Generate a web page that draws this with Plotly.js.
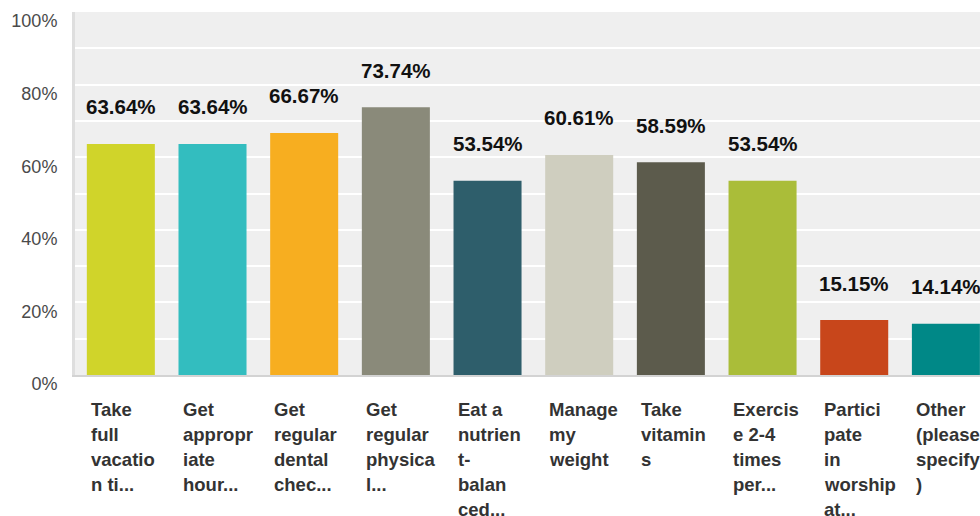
<!DOCTYPE html>
<html>
<head>
<meta charset="utf-8">
<script src="https://cdn.plot.ly/plotly-3.0.1.min.js"></script>
<style>html,body{margin:0;padding:0;background:#fff;overflow:hidden}#chart{width:980px;height:516px}</style>
</head>
<body>
<div id="chart"></div>
<script>
var categories = [
  "Take<br>full<br>vacatio<br>n ti...",
  "Get<br>appropr<br>iate<br>hour...",
  "Get<br>regular<br>dental<br>chec...",
  "Get<br>regular<br>physica<br>l...",
  "Eat a<br>nutrien<br>t-<br>balan<br>ced...",
  "Manage<br>my<br>weight",
  "Take<br>vitamin<br>s",
  "Exercis<br>e 2-4<br>times<br>per...",
  "Partici<br>pate<br>in<br>worship<br>at...",
  "Other<br>(please<br>specify<br>)"
];
var values = [63.64, 63.64, 66.67, 73.74, 53.54, 60.61, 58.59, 53.54, 15.15, 14.14];
var colors = ["#d0d42a", "#33bdbf", "#f7ae20", "#8a8a7a", "#2e5e6b", "#cfcebf", "#5c5b4c", "#aabd39", "#c8461b", "#008887"];
var yTicks = [0, 20, 40, 60, 80, 100];

var idx = values.map(function(v, i){ return i; });

var trace = {
  type: 'bar',
  x: idx,
  y: values,
  marker: {color: colors, line: {width: 0}},
  hoverinfo: 'skip'
};

var annotations = [];
values.forEach(function(v, i){
  annotations.push({
    x: i, y: v, xref: 'x', yref: 'y',
    text: v.toFixed(2) + '%',
    showarrow: false, xanchor: 'center', yanchor: 'middle', yshift: 37,
    font: {family: '"Liberation Sans", Arial, sans-serif', size: 20.5, color: '#111', weight: 'bold'}
  });
});
categories.forEach(function(c, i){
  c.split('<br>').forEach(function(line, k){
    annotations.push({
      x: i, y: 0, xref: 'x', yref: 'y',
      text: '<b>' + line + '</b>',
      showarrow: false, xanchor: 'left', yanchor: 'middle',
      xshift: -32, yshift: -34 - 25 * k,
      font: {family: '"Liberation Sans", Arial, sans-serif', size: 18.5, color: '#333'}
    });
  });
});

var layout = {
  width: 980, height: 516,
  margin: {l: 75, r: 0, t: 12, b: 141, pad: 0},
  paper_bgcolor: '#ffffff',
  plot_bgcolor: '#efefef',
  bargap: 0.258,
  showlegend: false,
  xaxis: {
    range: [-0.5, 9.372], showticklabels: false, showgrid: false, zeroline: false,
    ticks: '', showline: true, linecolor: '#d3d3d3', linewidth: 2, fixedrange: true
  },
  yaxis: {
    range: [0, 100], tickvals: yTicks, ticktext: yTicks.map(function(t){ return t + '%'; }),
    showgrid: true, gridcolor: '#ffffff', gridwidth: 2,
    minor: {dtick: 10, showgrid: true, gridcolor: '#ffffff', gridwidth: 2},
    zeroline: false, ticks: '', showline: true, linecolor: '#dedede', linewidth: 3,
    ticklabelshift: 9, ticklabelstandoff: 11,
    tickfont: {family: '"Liberation Sans", Arial, sans-serif', size: 18, color: '#4a4a4a'},
    fixedrange: true
  },
  annotations: annotations
};

Plotly.newPlot('chart', [trace], layout, {displayModeBar: false, staticPlot: true});
</script>
</body>
</html>
